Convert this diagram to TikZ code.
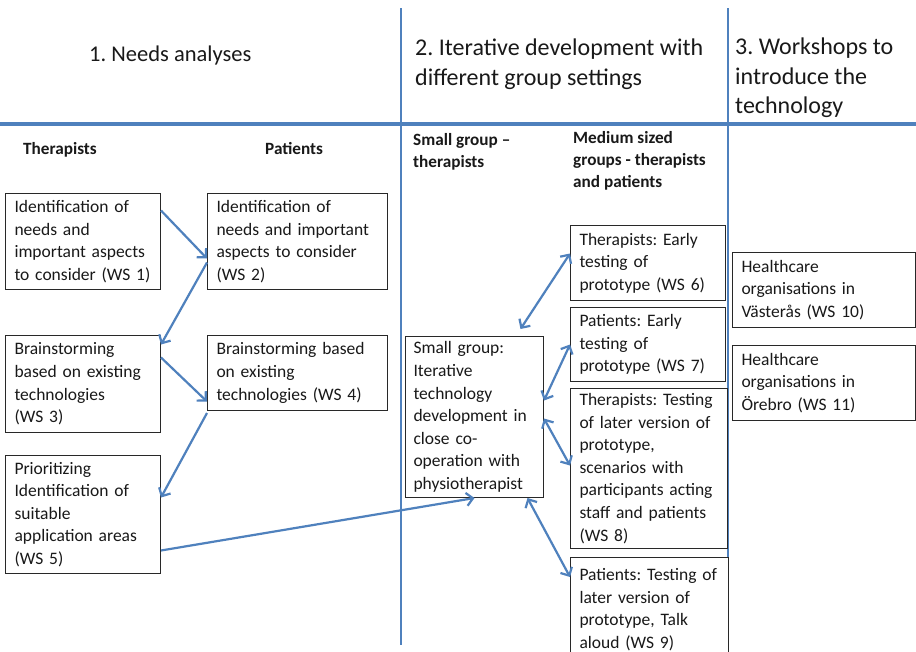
\documentclass[tikz,border=0pt]{standalone}
\usepackage{fontspec}
\setmainfont{Carlito}
\usetikzlibrary{arrows.meta}
\definecolor{lineblue}{RGB}{79,129,189}
\definecolor{boxline}{RGB}{40,40,40}
\definecolor{txt}{RGB}{25,25,25}
\frenchspacing
\begin{document}
\begin{tikzpicture}[x=1pt,y=-1pt,
  box/.style={draw=boxline, line width=1pt, fill=white, anchor=north west, align=left,
    inner xsep=9pt, inner ysep=0pt, text=txt, font=\frenchspacing\fontsize{17.5}{22.6}\selectfont},
  divider/.style={draw=lineblue, line width=2.8pt},
  arr/.style={draw=lineblue, line width=2.2pt, -{Straight Barb[length=6.5pt,width=13pt]}},
  biarr/.style={draw=lineblue, line width=2.2pt,
    {Straight Barb[length=6.5pt,width=13pt]}-{Straight Barb[length=6.5pt,width=13pt]}},
  head/.style={inner sep=0pt, align=left, text=txt, font=\fontsize{24}{29.5}\selectfont},
  sub/.style={inner sep=0pt, align=left, text=txt, font=\bfseries\fontsize{17.2}{22}\selectfont}]
\useasboundingbox (0,0) rectangle (916,651);
\clip (0,0) rectangle (916,651);
\fill[white] (0,0) rectangle (916,651);

% dividers
\coordinate (v1t) at (401,8);
\coordinate (v1b) at (401,645);
\coordinate (v2t) at (728,8);
\coordinate (v2b) at (728,645);
\coordinate (hl) at (0,124);
\coordinate (hr) at (916,124);
\draw[divider] (v1t) -- (v1b);
\draw[divider] (v2t) -- (v2b);
\draw[divider, line width=3.2pt] (hl) -- (hr);

% headings
\node[head, anchor=base west, font=\fontsize{22.5}{28}\selectfont] (h1) at (89,61) {1. Needs analyses};
\node[head, anchor=north west] (h2) at (415,39) {2. Iterative development with\\different group settings};
\node[head, anchor=north west] (h3) at (735,38) {3. Workshops to\\introduce the\\technology};

% sub headings
\node[sub, anchor=base west] (s1) at (23,154) {Therapists};
\node[sub, anchor=base west] (s2) at (265,154) {Patients};
\node[sub, anchor=north west] (s3) at (413,133) {Small group –\\therapists};
\node[sub, anchor=north west] (s4) at (573,131) {Medium sized\\groups - therapists\\and patients};

% boxes
\node[box, text width=137pt, minimum height=96pt] (ws1) at (5,193)
  {Identification of\\needs and\\important aspects\\to consider (WS 1)};
\node[box, text width=162pt, minimum height=96pt] (ws2) at (207,193)
  {Identification of\\needs and important\\aspects to consider\\(WS 2)};
\node[box, text width=137pt, minimum height=97pt] (ws3) at (5,335)
  {Brainstorming\\based on existing\\technologies\\(WS 3)};
\node[box, text width=162pt, minimum height=75pt] (ws4) at (207,335)
  {Brainstorming based\\on existing\\technologies (WS 4)};
\node[box, text width=137pt, minimum height=118pt] (ws5) at (5,455)
  {Prioritizing\\Identification of\\suitable\\application areas\\(WS 5)};
\node[box, inner xsep=8pt, text width=122pt, minimum height=161pt] (sg) at (405,336)
  {Small group:\\Iterative\\technology\\development in\\close co-\\operation with\\physiotherapist};
\node[box, text width=137pt, minimum height=75pt] (ws6) at (570,225)
  {Therapists: Early\\testing of\\prototype (WS 6)};
\node[box, text width=137pt, minimum height=74pt] (ws7) at (570,307)
  {Patients: Early\\testing of\\prototype (WS 7)};
\node[box, text width=139pt, minimum height=160pt] (ws8) at (570,388)
  {Therapists: Testing\\of later version of\\prototype,\\scenarios with\\participants acting\\staff and patients\\(WS 8)};
\node[box, text width=140pt, minimum height=104pt] (ws9) at (570,557)
  {Patients: Testing of\\later version of\\prototype, Talk\\aloud (WS 9)};
\node[box, text width=165pt, minimum height=75pt] (ws10) at (732,252)
  {Healthcare\\organisations in\\Västerås (WS 10)};
\node[box, text width=165pt, minimum height=75pt] (ws11) at (732,345)
  {Healthcare\\organisations in\\Örebro (WS 11)};

% connectors
\draw[arr] ([yshift=31pt]ws1.east) -- ([yshift=-17pt]ws2.west);
\draw[arr] ([yshift=-21pt]ws2.west) -- ([yshift=39.5pt]ws3.east);
\draw[arr] ([yshift=26.5pt]ws3.east) -- ([yshift=-28.5pt]ws4.west);
\draw[arr] ([yshift=-2pt]ws4.south west) -- ([yshift=17pt]ws5.east);
\draw[arr] ([yshift=-36pt]ws5.east) -- (sg.south);
\draw[biarr] ([xshift=46pt,yshift=7pt]sg.north) -- ([yshift=9.5pt]ws6.west);
\draw[biarr] ([yshift=16.5pt]sg.east) -- (ws7.west);
\draw[biarr] ([yshift=-1.5pt]sg.east) -- ([yshift=3pt]ws8.west);
\draw[biarr] ([xshift=53pt]sg.south) -- ([yshift=-20pt]ws9.north west);
\end{tikzpicture}
\end{document}
